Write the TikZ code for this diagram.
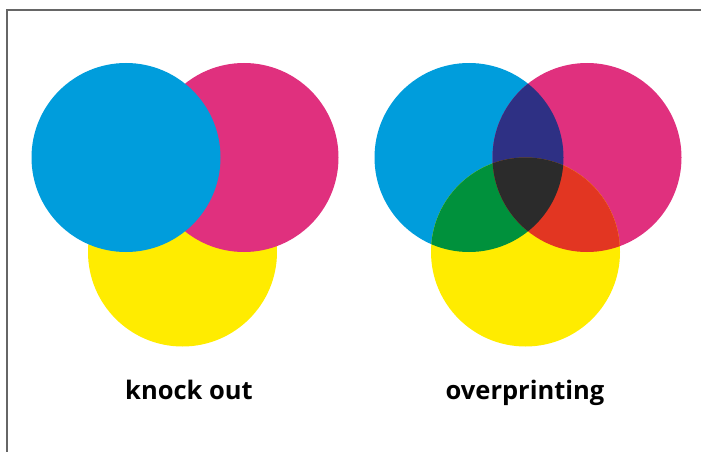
\documentclass[tikz,border=0pt]{standalone}
\usepackage{fontspec}
\setmainfont{Open Sans}
\definecolor{cyanink}{RGB}{0,157,220}
\definecolor{magentaink}{RGB}{224,48,126}
\definecolor{yellowink}{RGB}{255,236,0}
\definecolor{blueink}{RGB}{46,48,132}
\definecolor{greenink}{RGB}{0,145,60}
\definecolor{redink}{RGB}{226,54,34}
\definecolor{blackink}{RGB}{43,43,43}
\tikzset{label text/.style={anchor=base, font=\bfseries\fontsize{25.5}{30}\selectfont, text=black, inner sep=0pt}}
\begin{document}
\begin{tikzpicture}[x=1pt, y=-1pt]
        \useasboundingbox (0,0) rectangle (701,452);
        %cornice
        \draw[line width=1.5pt, gray!80!black] (7,452)--(7,10)--(701,10);

        %knock out
        \fill[yellowink] (182.5,252) circle (94.5);
        \fill[magentaink] (244,157.5) circle (94.5);
        \fill[cyanink] (126,157.5) circle (94.5);

        %overprinting
        \fill[cyanink] (469,157.5) circle (94.5);
        \fill[magentaink] (587,157.5) circle (94.5);
        \fill[yellowink] (525.5,252) circle (94.5);
        \begin{scope}
            \clip (469,157.5) circle (94.5);
            \fill[blueink] (587,157.5) circle (94.5);
            \fill[greenink] (525.5,252) circle (94.5);
        \end{scope}
        \begin{scope}
            \clip (587,157.5) circle (94.5);
            \fill[redink] (525.5,252) circle (94.5);
            \clip (469,157.5) circle (94.5);
            \fill[blackink] (525.5,252) circle (94.5);
        \end{scope}

        %label
        \node[label text] (knockout) at (189,399) {knock out};
        \node[label text] (overprint) at (525,399) {overprinting};
\end{tikzpicture}
\end{document}
